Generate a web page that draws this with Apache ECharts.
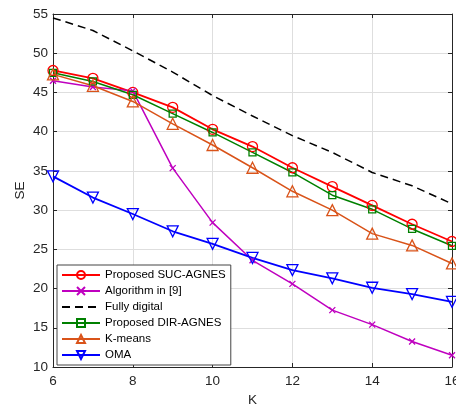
<!DOCTYPE html>
<html><head><meta charset="utf-8">
<script src="https://cdn.jsdelivr.net/npm/echarts@6/dist/echarts.min.js"></script>
<style>html,body{margin:0;padding:0;background:#fff}#c{width:456px;height:405px}</style>
</head><body><div id="c"></div>
<script>
const K = [6,7,8,9,10,11,12,13,14,15,16];
const sucAgnes = [47.8,46.8,45.0,43.1,40.3,38.1,35.4,33.0,30.6,28.2,26.0];
const algo9 = [46.5,45.7,45.2,35.35,28.4,23.6,20.6,17.25,15.4,13.25,11.5];
const fullyDigital = [54.5,52.9,50.3,47.6,44.6,42.0,39.5,37.35,34.8,33.1,30.8];
const dirAgnes = [47.5,46.4,44.7,42.3,39.9,37.35,34.8,31.9,30.1,27.6,25.45];
const kmeans = [47.3,45.85,43.85,41.0,38.3,35.4,32.4,30.0,27.0,25.5,23.2];
const oma = [34.3,31.6,29.5,27.3,25.7,23.9,22.35,21.3,20.1,19.3,18.3];
const names = ['Proposed SUC-AGNES','Algorithm in [9]','Fully digital','Proposed DIR-AGNES','K-means','OMA'];

const font = "'Liberation Sans', Arial, sans-serif";
const axisCol = '#262626';
function pairs(v){ return K.map((k,i)=>[k,v[i]]); }
function mk(name, data, color, symbol, size, extra){
  return Object.assign({
    name, type:'line', data:pairs(data), symbol, symbolSize:size,
    showSymbol:true, animation:false,
    lineStyle:{color, width:1.5},
    itemStyle:{color:'rgba(0,0,0,0)', borderColor:color, borderWidth:1.3},
    z:3
  }, extra||{});
}
const chart = echarts.init(document.getElementById('c'), null, {renderer:'canvas'});
const axCommon = {
  axisLine:{show:true, onZero:false, lineStyle:{color:axisCol, width:1}},
  axisTick:{show:true, inside:true, length:4, lineStyle:{color:axisCol}},
};
chart.setOption({
  animation:false,
  textStyle:{fontFamily:font},
  grid:{left:53, right:4, top:14, bottom:38, containLabel:false, outerBoundsMode:'none'},
  xAxis:[
    Object.assign({type:'value', min:6, max:16, interval:2, position:'bottom',
      name:'K', nameLocation:'middle', nameGap:24,
      nameTextStyle:{color:axisCol, fontSize:13.5, fontFamily:font},
      axisLabel:{color:axisCol, fontSize:13.5, margin:7, fontFamily:font},
      splitLine:{show:true, lineStyle:{color:'#dedede', width:1}}}, axCommon),
    Object.assign({type:'value', min:6, max:16, interval:2, position:'top',
      axisLabel:{show:false}, splitLine:{show:false}}, axCommon)
  ],
  yAxis:[
    Object.assign({type:'value', min:10, max:55, interval:5, position:'left',
      name:'SE', nameLocation:'middle', nameGap:26, nameMoveOverlap:false,
      nameTextStyle:{color:axisCol, fontSize:13.5, fontFamily:font},
      axisLabel:{color:axisCol, fontSize:13.5, margin:5, fontFamily:font},
      splitLine:{show:true, lineStyle:{color:'#dedede', width:1}}}, axCommon),
    Object.assign({type:'value', min:10, max:55, interval:5, position:'right',
      axisLabel:{show:false}, splitLine:{show:false}}, axCommon)
  ],
  legend:{
    orient:'vertical', left:57, top:265,
    data:names.map(n => n === 'Fully digital' ? {name:n, itemStyle:{opacity:0}} : n),
    backgroundColor:'#fff', borderColor:'#444', borderWidth:1,
    padding:[3,5,3,4], itemGap:2, itemWidth:38, itemHeight:10,
    textStyle:{fontSize:11.5, color:'#000', fontFamily:font, lineHeight:14},
    z:10
  },
  series:[
    mk(names[0], sucAgnes, '#ff0000', 'circle', 10, {lineStyle:{color:'#ff0000', width:1.8}}),
    mk(names[1], algo9, '#bf00bf', 'path://M0,0L10,10M10,0L0,10', 6),
    {name:names[2], type:'line', data:pairs(fullyDigital), symbol:'none', showSymbol:false,
      lineStyle:{color:'#000', width:1.5, type:[8,5]}, itemStyle:{color:'#000'}, z:3},
    mk(names[3], dirAgnes, '#008000', 'rect', 7),
    mk(names[4], kmeans, '#d95319', 'path://M5,0L10,8.66L0,8.66Z', 11),
    mk(names[5], oma, '#0000ff', 'path://M0,0L10,0L5,8.66Z', 11, {lineStyle:{color:'#0000ff', width:1.8}})
  ]
});
</script></body></html>
